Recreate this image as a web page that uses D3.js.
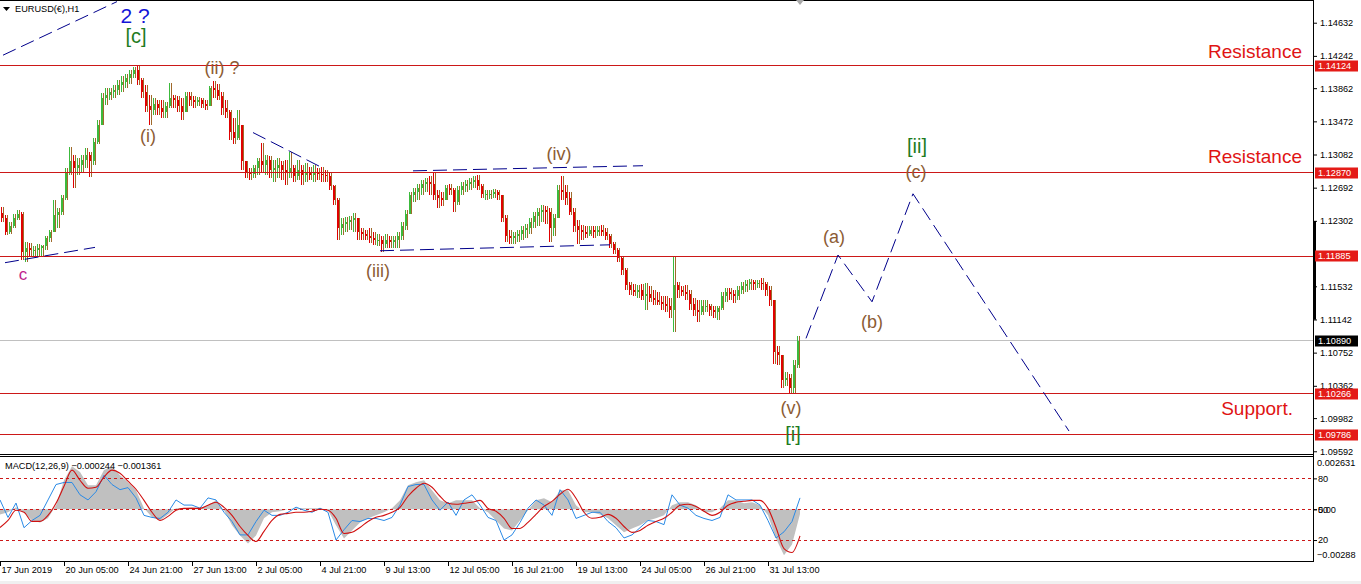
<!DOCTYPE html>
<html><head><meta charset="utf-8">
<script src="https://cdn.jsdelivr.net/npm/d3@7"></script>
<style>
html,body{margin:0;padding:0;background:#fff;overflow:hidden;}
svg{display:block;font-family:"Liberation Sans",Arial,sans-serif;}
</style></head><body>
<svg id="c" width="1361" height="584"></svg>
<script>
// ---------- DATA (EURUSD H1, 4-hour buckets) ----------
const firstOpen = 1.1240;
const high = [1.1247,1.1237,1.1229,1.1238,1.1243,1.1241,1.1205,1.1204,1.1201,1.1203,
1.1202,1.1212,1.1220,1.1255,1.1245,1.1261,1.1292,1.1317,1.1308,1.1304,
1.1308,1.1316,1.1311,1.1328,1.1349,1.1380,1.1387,1.1387,1.1390,1.1396,
1.1401,1.1403,1.1408,1.1411,1.1412,1.1398,1.1390,1.1378,1.1375,1.1372,
1.1372,1.1370,1.1392,1.1378,1.1377,1.1375,1.1382,1.1382,1.1377,1.1376,
1.1375,1.1372,1.1389,1.1395,1.1391,1.1382,1.1372,1.1361,1.1351,1.1361,
1.1340,1.1296,1.1292,1.1296,1.1304,1.1322,1.1308,1.1307,1.1302,1.1304,
1.1300,1.1302,1.1311,1.1296,1.1302,1.1296,1.1298,1.1294,1.1296,1.1292,
1.1294,1.1290,1.1288,1.1272,1.1257,1.1234,1.1235,1.1236,1.1240,1.1234,
1.1222,1.1220,1.1222,1.1217,1.1215,1.1212,1.1215,1.1212,1.1212,1.1217,
1.1229,1.1243,1.1264,1.1269,1.1274,1.1278,1.1281,1.1283,1.1288,1.1267,
1.1264,1.1272,1.1274,1.1269,1.1271,1.1276,1.1278,1.1281,1.1283,1.1284,
1.1274,1.1267,1.1267,1.1268,1.1267,1.1261,1.1237,1.1220,1.1217,1.1220,
1.1224,1.1227,1.1234,1.1241,1.1245,1.1249,1.1248,1.1245,1.1238,1.1272,
1.1283,1.1272,1.1264,1.1245,1.1231,1.1225,1.1224,1.1224,1.1224,1.1224,
1.1225,1.1222,1.1215,1.1205,1.1198,1.1189,1.1175,1.1158,1.1156,1.1155,
1.1156,1.1157,1.1154,1.1149,1.1147,1.1142,1.1142,1.1140,1.1189,1.1158,
1.1154,1.1155,1.1149,1.1140,1.1137,1.1137,1.1137,1.1132,1.1130,1.1130,
1.1147,1.1151,1.1151,1.1149,1.1154,1.1158,1.1161,1.1162,1.1161,1.1161,
1.1163,1.1158,1.1154,1.1137,1.1083,1.1072,1.1052,1.1050,1.1067,1.1095];
const low = [1.1229,1.1214,1.1215,1.1222,1.1231,1.1184,1.1182,1.1189,1.1189,1.1189,
1.1189,1.1196,1.1205,1.1217,1.1222,1.1237,1.1255,1.1284,1.1269,1.1284,
1.1288,1.1292,1.1282,1.1296,1.1320,1.1343,1.1366,1.1372,1.1375,1.1378,
1.1382,1.1387,1.1391,1.1398,1.1390,1.1375,1.1358,1.1343,1.1355,1.1355,
1.1351,1.1351,1.1363,1.1363,1.1358,1.1349,1.1361,1.1365,1.1363,1.1365,
1.1363,1.1361,1.1365,1.1375,1.1372,1.1355,1.1351,1.1325,1.1320,1.1325,
1.1290,1.1281,1.1278,1.1281,1.1284,1.1288,1.1284,1.1281,1.1276,1.1281,
1.1278,1.1272,1.1281,1.1276,1.1278,1.1272,1.1276,1.1278,1.1276,1.1278,
1.1276,1.1276,1.1267,1.1249,1.1208,1.1214,1.1217,1.1220,1.1217,1.1208,
1.1208,1.1208,1.1204,1.1202,1.1201,1.1194,1.1198,1.1198,1.1198,1.1198,
1.1208,1.1220,1.1241,1.1252,1.1255,1.1261,1.1264,1.1260,1.1255,1.1245,
1.1248,1.1255,1.1260,1.1241,1.1249,1.1260,1.1264,1.1267,1.1269,1.1267,
1.1257,1.1255,1.1256,1.1257,1.1255,1.1229,1.1205,1.1203,1.1203,1.1205,
1.1208,1.1210,1.1215,1.1222,1.1224,1.1229,1.1227,1.1205,1.1212,1.1237,
1.1255,1.1249,1.1237,1.1217,1.1203,1.1208,1.1210,1.1212,1.1210,1.1212,
1.1212,1.1208,1.1198,1.1191,1.1182,1.1167,1.1149,1.1143,1.1142,1.1140,
1.1137,1.1125,1.1135,1.1131,1.1131,1.1125,1.1123,1.1116,1.1100,1.1140,
1.1142,1.1137,1.1125,1.1118,1.1111,1.1120,1.1123,1.1118,1.1116,1.1114,
1.1125,1.1135,1.1137,1.1134,1.1137,1.1144,1.1147,1.1149,1.1149,1.1151,
1.1149,1.1142,1.1130,1.1062,1.1061,1.1034,1.1036,1.1028,1.1027,1.1057];
const close = [1.1234,1.1217,1.1224,1.1234,1.1238,1.1194,1.1198,1.1196,1.1196,1.1198,
1.1201,1.1210,1.1217,1.1237,1.1241,1.1257,1.1288,1.1300,1.1292,1.1296,
1.1302,1.1308,1.1300,1.1323,1.1343,1.1375,1.1378,1.1382,1.1384,1.1390,
1.1394,1.1398,1.1403,1.1408,1.1396,1.1382,1.1365,1.1361,1.1368,1.1363,
1.1358,1.1365,1.1375,1.1372,1.1365,1.1358,1.1377,1.1372,1.1370,1.1372,
1.1368,1.1365,1.1387,1.1384,1.1377,1.1363,1.1358,1.1335,1.1328,1.1343,
1.1300,1.1288,1.1285,1.1292,1.1300,1.1296,1.1302,1.1290,1.1292,1.1296,
1.1290,1.1288,1.1292,1.1283,1.1290,1.1284,1.1288,1.1284,1.1288,1.1285,
1.1284,1.1283,1.1271,1.1255,1.1222,1.1227,1.1229,1.1231,1.1234,1.1217,
1.1215,1.1212,1.1210,1.1208,1.1208,1.1203,1.1208,1.1205,1.1208,1.1212,
1.1224,1.1238,1.1260,1.1264,1.1269,1.1274,1.1276,1.1274,1.1260,1.1257,
1.1255,1.1269,1.1267,1.1252,1.1267,1.1271,1.1274,1.1276,1.1278,1.1271,
1.1262,1.1262,1.1262,1.1264,1.1260,1.1234,1.1212,1.1210,1.1212,1.1215,
1.1220,1.1222,1.1229,1.1236,1.1241,1.1243,1.1241,1.1222,1.1234,1.1267,
1.1264,1.1257,1.1241,1.1224,1.1220,1.1217,1.1215,1.1220,1.1217,1.1220,
1.1217,1.1212,1.1203,1.1196,1.1187,1.1172,1.1155,1.1149,1.1147,1.1149,
1.1142,1.1144,1.1140,1.1137,1.1135,1.1132,1.1130,1.1125,1.1155,1.1149,
1.1147,1.1144,1.1132,1.1125,1.1123,1.1130,1.1130,1.1125,1.1123,1.1128,
1.1142,1.1147,1.1144,1.1142,1.1149,1.1154,1.1156,1.1158,1.1156,1.1157,
1.1156,1.1149,1.1137,1.1076,1.1072,1.1043,1.1045,1.1034,1.1061,1.1089];

// MACD panel, one value every 8 hours
const macdMain = [-0.00026,-0.00015,0.00010,-0.00015,-0.00057,-0.00067,-0.00046,0.00021,0.00149,0.00221,
0.00191,0.00124,0.00124,0.00201,0.00221,0.00175,0.00139,0.00098,0.00005,-0.00041,
-0.00057,-0.00026,0.00005,0.00005,0.00010,0.00005,0.00021,0.00046,-0.00005,-0.00082,
-0.00134,-0.00175,-0.00134,-0.00046,-0.00015,-0.00010,0,0.00005,0.00005,0.00005,
0.00005,-0.00005,-0.00082,-0.00149,-0.00108,-0.00067,-0.00046,-0.00031,-0.00015,0.00005,
0.00046,0.00124,0.00139,0.00149,0.00098,0.00046,0.00031,0.00046,0.00046,0.00046,
0.00005,-0.00015,-0.00057,-0.00098,-0.00108,-0.00057,-0.00005,0.00046,0.00057,0.00036,
0.00098,0.00098,0.00021,-0.00015,-0.00015,-0.00026,-0.00046,-0.00082,-0.00118,-0.00098,
-0.00082,-0.00057,-0.00046,-0.00031,0.00021,0.00036,0.00036,0.00021,-0.00015,-0.00015,
0.00005,0.00046,0.00046,0.00031,0.00036,0.00021,-0.00031,-0.00149,-0.00235,-0.00180,
-0.000244];
const macdSignal = [-0.00093,-0.00057,-0.00005,-0.00015,-0.00062,-0.00062,-0.00031,0.00031,0.00118,0.00201,
0.00149,0.00108,0.00113,0.00165,0.00201,0.00185,0.00144,0.00103,0.00046,-0.00015,
-0.00057,-0.00036,-0.00005,0.00005,0.00005,0.00005,0.00021,0.00036,0.00010,-0.00031,
-0.00088,-0.00134,-0.00165,-0.00113,-0.00057,-0.00026,-0.00021,-0.00015,-0.00015,-0.00010,
0,-0.00005,-0.00046,-0.00124,-0.00118,-0.00093,-0.00062,-0.00041,-0.00031,-0.00015,
0.00010,0.00067,0.00108,0.00134,0.00113,0.00067,0.00031,0.00026,0.00031,0.00036,
0.00046,0.00005,-0.00010,-0.00046,-0.00098,-0.00098,-0.00067,-0.00026,0.00015,0.00041,
0.00077,0.00103,0.00057,-0.00015,-0.00046,-0.00041,-0.00026,-0.00046,-0.00088,-0.00118,
-0.00108,-0.00082,-0.00062,-0.00046,-0.00015,0.00021,0.00026,0.00015,-0.00010,-0.00031,
-0.00015,0.00021,0.00036,0.00041,0.00046,0.00046,0.00005,-0.00093,-0.00201,-0.00221,
-0.001361];
const oscLine = [59,42,56,32,39,44,59,74,76,76,
64,59,67,83,74,69,71,61,44,42,
41,47,59,54,54,51,61,59,47,38,
25,25,38,49,44,44,47,52,49,47,
51,47,20,30,39,38,41,41,39,42,
54,72,74,74,59,49,57,44,59,64,
54,42,39,20,25,37,51,59,54,44,
69,59,41,44,47,47,38,32,22,25,
32,39,38,35,64,54,51,44,41,39,
42,64,59,59,59,54,39,22,28,38,
61];
const oscLevels = [80,50,20];

// levels & axis
const resistance = [1.14124, 1.12870, 1.11885];
const support = [1.10266, 1.09786];
const lastPrice = 1.10890;
const priceTicks = [1.14632,1.14242,1.13862,1.13472,1.13082,1.12692,1.12302,1.11922,1.11532,1.11142,1.10752,1.10362,1.09982,1.09592];
const timeLabels = ["17 Jun 2019","20 Jun 05:00","24 Jun 21:00","27 Jun 13:00","2 Jul 05:00","4 Jul 21:00","9 Jul 13:00","12 Jul 05:00","16 Jul 21:00","19 Jul 13:00","24 Jul 05:00","26 Jul 21:00","31 Jul 13:00"];
const timeLabelBars = [0,64,128,192,256,320,384,448,512,576,640,704,768];

// trend lines [bar, price]
const trendLines = [
  [[3,1.1425],[117,1.1488]],
  [[5,1.1181],[95,1.1199]],
  [[253,1.1334],[320,1.1294]],
  [[413,1.1289],[643,1.1295]],
  [[380,1.1195],[610,1.1202]]
];
const projection = [[806,1.1092],[838,1.1190],[872,1.1135],[913,1.1262],[1069,1.0983]];

// wave labels [text, bar, price]
const waveLabels = [
  ["2 ?",135,1.1472],["[c]",136,1.1448],["(ii) ?",222,1.1410],["(i)",148,1.1330],
  ["c",23,1.1167],["(iii)",378,1.1171],["(iv)",559,1.1309],["(a)",834,1.1211],
  ["(b)",872,1.1111],["[ii]",917,1.1318],["(c)",916,1.1288],["(v)",791,1.1010],["[i]",793,1.0979]
];
const zoneLabels = [["Resistance",1302,1.1429],["Resistance",1302,1.1306],["Support.",1293,1.1009]];

// ---------- LAYOUT ----------
const R = 1313, mainBot = 454, mTop = 457, mBot = 561;
const svg = d3.select("#c");
const x = d3.scaleLinear().domain([0,1313]).range([0,R]);
const y = d3.scaleLinear().domain([1.0956,1.14899]).range([mainBot,0]);
const yM = d3.scaleLinear().domain([-0.00288,0.002631]).range([565.5,458]);
const yO = d3.scaleLinear().domain([0,100]).range([560.6,457.8]);

const defs = svg.append("defs");
defs.append("clipPath").attr("id","clipMain").append("rect").attr("x",0).attr("y",1).attr("width",R).attr("height",mainBot-1);
defs.append("clipPath").attr("id","clipM").append("rect").attr("x",0).attr("y",mTop).attr("width",R).attr("height",mBot-mTop);

// level lines
const gMain = svg.append("g").attr("clip-path","url(#clipMain)");
gMain.append("line").attr("x1",0).attr("x2",R).attr("y1",y(lastPrice)).attr("y2",y(lastPrice))
  .attr("stroke","#c0c0c0").attr("shape-rendering","crispEdges");

// candles
const open = close.map((c,i)=> i===0 ? firstOpen : close[i-1]);
const cd = close.map((c,i)=>({i, o:open[i], c, h:Math.max(high[i],open[i],c), l:Math.min(low[i],open[i],c)}));
const gC = gMain.append("g").attr("shape-rendering","crispEdges");
gC.selectAll("line.w").data(cd).join("line").attr("class","w")
  .attr("x1",d=>Math.round(x(4*d.i+2))+1.5).attr("x2",d=>Math.round(x(4*d.i+2))+1.5)
  .attr("y1",d=>y(d.h)).attr("y2",d=>y(d.l)).attr("stroke","#a06a2c");
gC.selectAll("line.w2").data(cd).join("line").attr("class","w2")
  .attr("x1",d=>Math.round(x(4*d.i+2))-0.5).attr("x2",d=>Math.round(x(4*d.i+2))-0.5)
  .attr("y1",d=>y(d.h)).attr("y2",d=>y(d.l)).attr("stroke",d=>d.c>=d.o?"#3cba3c":"#e00000");
gC.selectAll("rect").data(cd).join("rect")
  .attr("x",d=>Math.round(x(4*d.i+2))-1).attr("width",2)
  .attr("y",d=>y(Math.max(d.o,d.c))).attr("height",d=>Math.max(1,Math.abs(y(d.o)-y(d.c))))
  .attr("fill",d=>d.c>=d.o?"#3cba3c":"#e00000");

[...resistance,...support].forEach(p=>{
  gMain.append("line").attr("x1",0).attr("x2",R).attr("y1",y(p)).attr("y2",y(p))
    .attr("stroke","#cc1818").attr("shape-rendering","crispEdges");
});

// trend lines
const ln = d3.line().x(d=>x(d[0])).y(d=>y(d[1]));
trendLines.forEach(t=>gMain.append("path").attr("d",ln(t)).attr("fill","none").attr("stroke","#00008b").attr("stroke-width",1).attr("stroke-dasharray","14,6"));
gMain.append("path").attr("d",ln(projection)).attr("fill","none").attr("stroke","#00008b").attr("stroke-width",1).attr("stroke-dasharray","14,6");

// wave labels
function waveStyle(t){
  if(t==="2 ?") return ["#1414d8",21];
  if(t[0]==="[") return ["#1e7b1e",20];
  if(t==="c") return ["#c01f8c",17];
  return ["#8c5c34",18];
}
svg.selectAll("text.wave").data(waveLabels).join("text").attr("class","wave")
  .attr("x",d=>x(d[1])).attr("y",d=>y(d[2])).attr("text-anchor","middle").attr("dominant-baseline","central")
  .attr("fill",d=>waveStyle(d[0])[0]).attr("font-size",d=>waveStyle(d[0])[1]+"px").text(d=>d[0]);
svg.selectAll("text.zone").data(zoneLabels).join("text").attr("class","zone")
  .attr("x",d=>x(d[1])).attr("y",d=>y(d[2])).attr("text-anchor","end").attr("dominant-baseline","central")
  .attr("fill","#e01414").attr("font-size","19px").text(d=>d[0]);

// ---------- MACD ----------
const gM = svg.append("g").attr("clip-path","url(#clipM)");
const bx = (d,j)=>x(8*j);
gM.append("path").datum(macdMain).attr("d",d3.area().x(bx).y0(yM(0)).y1(d=>yM(d)))
  .attr("fill","#c0c0c0");
oscLevels.forEach(v=>gM.append("line").attr("x1",0).attr("x2",R).attr("y1",Math.round(yO(v))+0.5).attr("y2",Math.round(yO(v))+0.5)
  .attr("stroke","#cc1818").attr("stroke-dasharray","3,3"));
gM.append("path").datum(oscLine).attr("d",d3.line().x(bx).y(d=>yO(d)))
  .attr("fill","none").attr("stroke","#2a8ae6").attr("stroke-width",1);
gM.append("path").datum(macdSignal).attr("d",d3.line().x(bx).y(d=>yM(d)).curve(d3.curveMonotoneX))
  .attr("fill","none").attr("stroke","#d01010").attr("stroke-width",1.1);

const f6 = d3.format(".6f");
svg.append("text").attr("x",5).attr("y",466).attr("dominant-baseline","central").attr("font-size","9.2px")
  .text("MACD(12,26,9) "+f6(macdMain[macdMain.length-1])+" "+f6(macdSignal[macdSignal.length-1]));

// ---------- FRAME ----------
const fr = svg.append("g").attr("stroke","#000").attr("shape-rendering","crispEdges");
fr.append("line").attr("x1",0).attr("x2",R).attr("y1",0.5).attr("y2",0.5);
fr.append("line").attr("x1",0).attr("x2",R).attr("y1",mainBot+0.5).attr("y2",mainBot+0.5);
fr.append("line").attr("x1",0).attr("x2",R).attr("y1",mTop-0.5).attr("y2",mTop-0.5);
fr.append("line").attr("x1",0).attr("x2",R).attr("y1",mBot+0.5).attr("y2",mBot+0.5);
fr.append("line").attr("x1",R+0.5).attr("x2",R+0.5).attr("y1",0).attr("y2",mBot+1);
svg.append("rect").attr("x",R).attr("y",y(1.1230)).attr("width",3).attr("height",y(1.1114)-y(1.1230)).attr("fill","#000");

// top-left title
svg.append("path").attr("d","M3,7 L10,7 L6.5,11 Z").attr("fill","#000");
svg.append("text").attr("x",15).attr("y",9).attr("dominant-baseline","central").attr("font-size","9.2px").text("EURUSD(€),H1");
// chart shift marker
const sx = x(close.length*4);
svg.append("path").attr("d",`M${sx-4},0 L${sx+4},0 L${sx},5 Z`).attr("fill","#a8a8a8");

// price axis
const pa = svg.append("g").attr("transform",`translate(${R+1},0)`)
  .call(d3.axisRight(y).tickValues(priceTicks).tickFormat(d3.format(".5f")).tickSize(3).tickPadding(3));
pa.select(".domain").remove();
pa.selectAll("text").attr("font-size","9.2px").attr("font-family","Liberation Sans, Arial, sans-serif");

// price boxes
const boxes = [...resistance.map(p=>[p,"#e41b17"]),[lastPrice,"#000"],...support.map(p=>[p,"#e41b17"])];
boxes.forEach(([p,c])=>{
  svg.append("rect").attr("x",R+2).attr("y",Math.round(y(p))-5.5).attr("width",43).attr("height",11).attr("fill",c);
  svg.append("text").attr("x",R+5).attr("y",Math.round(y(p))).attr("dominant-baseline","central")
    .attr("font-size","9.2px").attr("fill","#fff").text(d3.format(".5f")(p));
});

// MACD axis
const ma = svg.append("g").attr("transform",`translate(${R+1},0)`)
  .call(d3.axisRight(yO).tickValues(oscLevels).tickSize(3).tickPadding(1));
ma.select(".domain").remove();
const mz = svg.append("g").attr("transform",`translate(${R+1},0)`)
  .call(d3.axisRight(yM).tickValues([0]).tickFormat(d3.format(".2f")).tickSize(3).tickPadding(1));
mz.select(".domain").remove();
svg.selectAll(".tick text").attr("font-size","9.2px").attr("font-family","Liberation Sans, Arial, sans-serif");
svg.append("text").attr("x",R+4).attr("y",mTop+6).attr("dominant-baseline","central").attr("font-size","9.2px").text(d3.format(".6f")(yM.domain()[1]));
svg.append("text").attr("x",R+4).attr("y",mBot-6).attr("dominant-baseline","central").attr("font-size","9.2px").text(d3.format(".5f")(yM.domain()[0]));

// time axis
const ta = svg.append("g");
timeLabelBars.forEach((b,k)=>{
  const tx = Math.round(x(b))+0.5;
  ta.append("line").attr("x1",tx).attr("x2",tx).attr("y1",mBot+1).attr("y2",mBot+5).attr("stroke","#000");
  ta.append("text").attr("x",tx+1).attr("y",570).attr("dominant-baseline","central").attr("font-size","9.2px").text(timeLabels[k]);
});
svg.append("rect").attr("x",0).attr("y",581).attr("width",1361).attr("height",3).attr("fill","#f0f0f0");
</script>
</body></html>
